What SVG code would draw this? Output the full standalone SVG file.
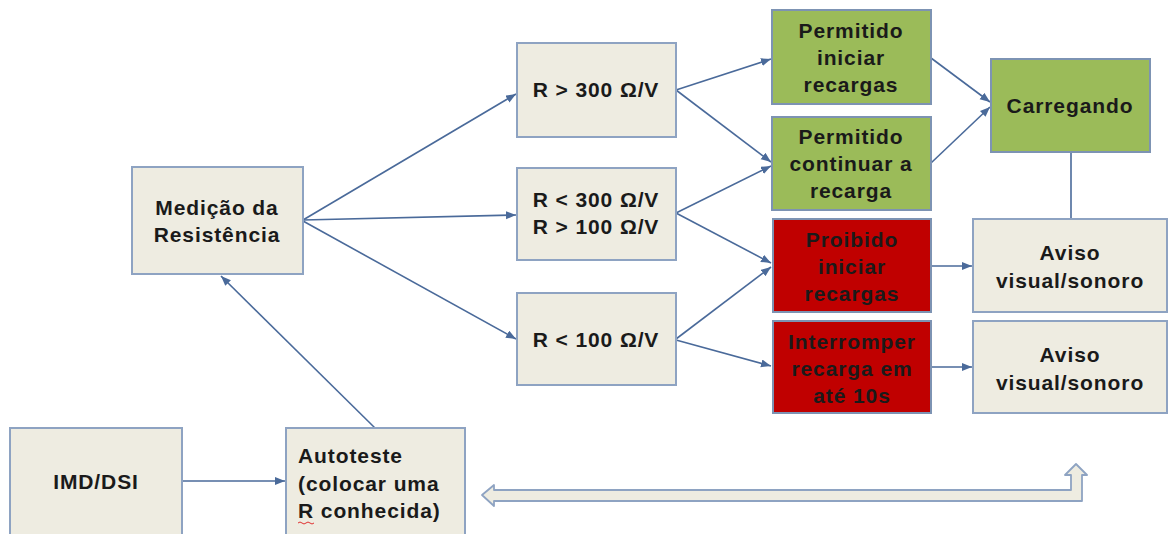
<svg xmlns="http://www.w3.org/2000/svg" width="1168" height="534" viewBox="0 0 1168 534">
<defs>
<style>
.b{fill:#eeece1;stroke:#8ea3c2;stroke-width:2}
.g{fill:#9bbb59;stroke:#7d93b3;stroke-width:2}
.r{fill:#c00000;stroke:#7d93b3;stroke-width:2}
text{font-family:"Liberation Sans",Arial,sans-serif;font-weight:bold;font-size:21px;letter-spacing:0.9px;fill:#1a1a1a;text-anchor:middle}
.c line{stroke:#4a6a9a;stroke-width:1.6;fill:none}
</style>
<marker id="ah" markerUnits="userSpaceOnUse" markerWidth="11" markerHeight="9" refX="10" refY="4" orient="auto">
<path d="M0,0 L10,4 L0,8 Z" fill="#4a6a9a"/>
</marker>
</defs>
<rect width="1168" height="534" fill="#ffffff"/>

<g class="c" id="connectors">
<line x1="182" y1="481" x2="285" y2="481" marker-end="url(#ah)"/>
<line x1="375" y1="428" x2="221" y2="276" marker-end="url(#ah)"/>
<line x1="303" y1="220" x2="516" y2="94" marker-end="url(#ah)"/>
<line x1="303" y1="220" x2="516" y2="215" marker-end="url(#ah)"/>
<line x1="303" y1="221" x2="516" y2="339" marker-end="url(#ah)"/>
<line x1="676" y1="90" x2="771" y2="59" marker-end="url(#ah)"/>
<line x1="676" y1="90" x2="771" y2="162" marker-end="url(#ah)"/>
<line x1="676" y1="213" x2="771" y2="166" marker-end="url(#ah)"/>
<line x1="676" y1="213" x2="771" y2="263" marker-end="url(#ah)"/>
<line x1="676" y1="339" x2="771" y2="267" marker-end="url(#ah)"/>
<line x1="676" y1="340" x2="771" y2="366" marker-end="url(#ah)"/>
<line x1="931" y1="58" x2="990" y2="102" marker-end="url(#ah)"/>
<line x1="931" y1="163" x2="990" y2="107" marker-end="url(#ah)"/>
<line x1="1071" y1="152" x2="1071" y2="219"/>
<line x1="931" y1="266" x2="972" y2="266" marker-end="url(#ah)"/>
<line x1="931" y1="367" x2="972" y2="367" marker-end="url(#ah)"/>
<path d="M482,495 L494,485 L494,490 L1071,490 L1071,475 L1065,475 L1076,464 L1087,475 L1082,475 L1082,501 L494,501 L494,506 Z" fill="#eeece1" stroke="#8ea3c2" stroke-width="1.8" stroke-linejoin="round"/>
</g>

<g id="imd">
<rect class="b" x="10" y="428" width="172" height="112"/>
<text x="96" y="489">IMD/DSI</text>
</g>

<g id="autoteste">
<rect class="b" x="286" y="428" width="179" height="112"/>
<text x="298" y="463" style="text-anchor:start">Autoteste</text>
<text x="298" y="491" style="text-anchor:start">(colocar uma</text>
<text x="298" y="518" style="text-anchor:start">R conhecida)</text>
<path d="M298,523 q2,-2 4,0 t4,0 t4,0 t4,0" fill="none" stroke="#e03030" stroke-width="1"/>
</g>

<g id="medicao">
<rect class="b" x="132" y="167" width="171" height="107"/>
<text x="217" y="215">Medição da</text>
<text x="217" y="242">Resistência</text>
</g>

<g id="r300">
<rect class="b" x="517" y="43" width="159" height="94"/>
<text x="596" y="97">R &gt; 300 Ω/V</text>
</g>

<g id="r300_100">
<rect class="b" x="517" y="168" width="159" height="92"/>
<text x="596" y="207">R &lt; 300 Ω/V</text>
<text x="596" y="234">R &gt; 100 Ω/V</text>
</g>

<g id="r100">
<rect class="b" x="517" y="293" width="159" height="92"/>
<text x="596" y="347">R &lt; 100 Ω/V</text>
</g>

<g id="perm_iniciar">
<rect class="g" x="772" y="10" width="159" height="94"/>
<text x="851" y="38">Permitido</text>
<text x="851" y="65">iniciar</text>
<text x="851" y="92">recargas</text>
</g>

<g id="perm_continuar">
<rect class="g" x="772" y="117" width="159" height="93"/>
<text x="851" y="144">Permitido</text>
<text x="851" y="171">continuar a</text>
<text x="851" y="198">recarga</text>
</g>

<g id="proibido">
<rect class="r" x="773" y="219" width="158" height="93"/>
<text x="852" y="247">Proibido</text>
<text x="852" y="274">iniciar</text>
<text x="852" y="301">recargas</text>
</g>

<g id="interromper">
<rect class="r" x="773" y="321" width="158" height="92"/>
<text x="852" y="349">Interromper</text>
<text x="852" y="376">recarga em</text>
<text x="852" y="403">até 10s</text>
</g>

<g id="carregando">
<rect class="g" x="991" y="59" width="159" height="93"/>
<text x="1070" y="113">Carregando</text>
</g>

<g id="aviso1">
<rect class="b" x="973" y="219" width="194" height="93"/>
<text x="1070" y="260">Aviso</text>
<text x="1070" y="288">visual/sonoro</text>
</g>

<g id="aviso2">
<rect class="b" x="973" y="321" width="194" height="92"/>
<text x="1070" y="362">Aviso</text>
<text x="1070" y="390">visual/sonoro</text>
</g>
</svg>
